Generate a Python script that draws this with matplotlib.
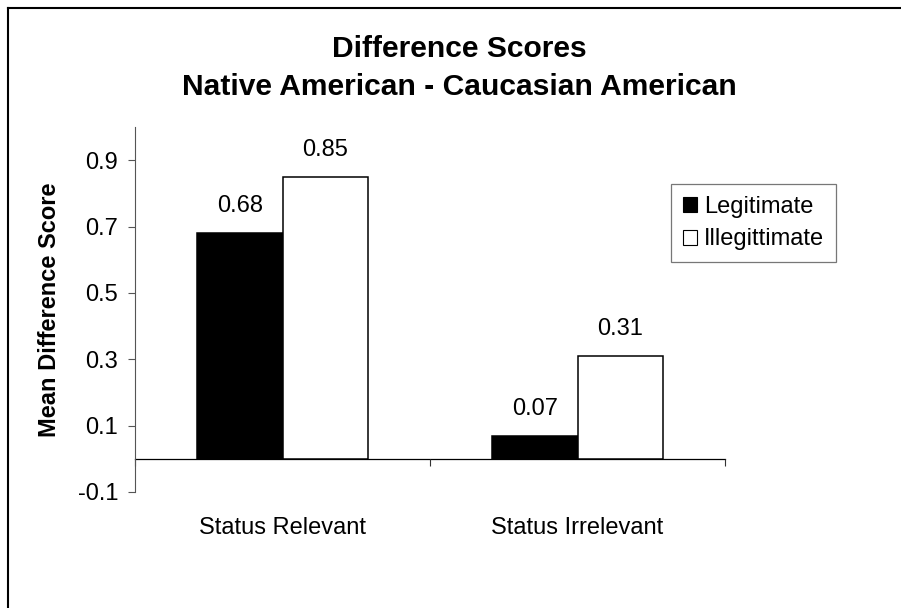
import matplotlib

matplotlib.use("Agg")
import matplotlib.pyplot as plt
from matplotlib.lines import Line2D
from matplotlib.patches import Patch

plt.rcParams["font.family"] = ["Liberation Sans", "DejaVu Sans"]

categories = ["Status Relevant", "Status Irrelevant"]
legitimate = [0.68, 0.07]
illegitimate = [0.85, 0.31]
yticks = [-0.1, 0.1, 0.3, 0.5, 0.7, 0.9]

W, H = 901, 608
fig = plt.figure(figsize=(W / 100, H / 100), dpi=100)
ax = fig.add_axes([135 / W, 1 - 492 / H, (725 - 135) / W, (492 - 127) / H])

x = list(range(len(categories)))
bw = 0.29
b1 = ax.bar([i - bw / 2 for i in x], legitimate, bw, color="black", edgecolor="black", lw=1.1)
b2 = ax.bar([i + bw / 2 for i in x], illegitimate, bw, color="white", edgecolor="black", lw=1.1)

for bars, vals in ((b1, legitimate), (b2, illegitimate)):
    for r, v in zip(bars, vals):
        ax.annotate(f"{v:.2f}", (r.get_x() + r.get_width() / 2, v), xytext=(0, 15),
                    textcoords="offset points", ha="center", va="baseline", fontsize=17)

ax.set_xlim(-0.5, 1.5)
ax.set_ylim(-0.1, 1.0)
ax.set_yticks(yticks)
ax.set_yticklabels([f"{t:.1f}" for t in yticks])
ax.set_xticks([-0.5, 0.5, 1.5])
ax.set_xticklabels([])
ax.set_xticks(x, minor=True)
ax.set_xticklabels(categories, minor=True)
ax.tick_params(axis="x", which="major", direction="out", length=5, width=0.8, color="#333333")
ax.tick_params(axis="x", which="minor", length=0, pad=42, labelsize=17)
ax.tick_params(axis="y", direction="out", length=5, width=0.8, color="#555555", labelsize=17, pad=7)

ax.spines["top"].set_visible(False)
ax.spines["right"].set_visible(False)
ax.spines["bottom"].set_position(("data", 0))
ax.spines["bottom"].set_linewidth(0.9)
ax.spines["bottom"].set_zorder(0.5)
ax.spines["left"].set_color("#555555")
ax.spines["left"].set_linewidth(0.8)

ax.set_ylabel("Mean Difference Score", fontsize=17, fontweight="bold")
ax.yaxis.set_label_coords(-(135 - 61) / 590, 0.5)

fig.text(459 / W, 1 - 57 / H, "Difference Scores", ha="center", va="baseline",
         fontsize=21.6, fontweight="bold")
fig.text(459 / W, 1 - 95 / H, "Native American - Caucasian American", ha="center",
         va="baseline", fontsize=21.6, fontweight="bold")

handles = [Patch(facecolor="black", edgecolor="black", lw=0.8),
           Patch(facecolor="white", edgecolor="black", lw=0.8)]
leg = fig.legend(handles, ["Legitimate", "Illegittimate"], loc="upper left",
                 bbox_to_anchor=(671 / W, 1 - 184 / H), borderaxespad=0, fontsize=17,
                 handlelength=0.6, handleheight=0.6, handletextpad=0.3, labelspacing=0.45,
                 borderpad=0.5, frameon=True, fancybox=False, shadow=False)
leg.get_frame().set_edgecolor("#555555")
leg.get_frame().set_linewidth(0.9)

# outer chart frame (Excel style, clipped at right/bottom)
fig.add_artist(Line2D([7.5 / W, 7.5 / W], [0, 1 - 8 / H], transform=fig.transFigure,
                      color="black", lw=1.5))
fig.add_artist(Line2D([7.5 / W, 1], [1 - 8 / H, 1 - 8 / H], transform=fig.transFigure,
                      color="black", lw=1.5))

fig.savefig("out.png", dpi=100)
